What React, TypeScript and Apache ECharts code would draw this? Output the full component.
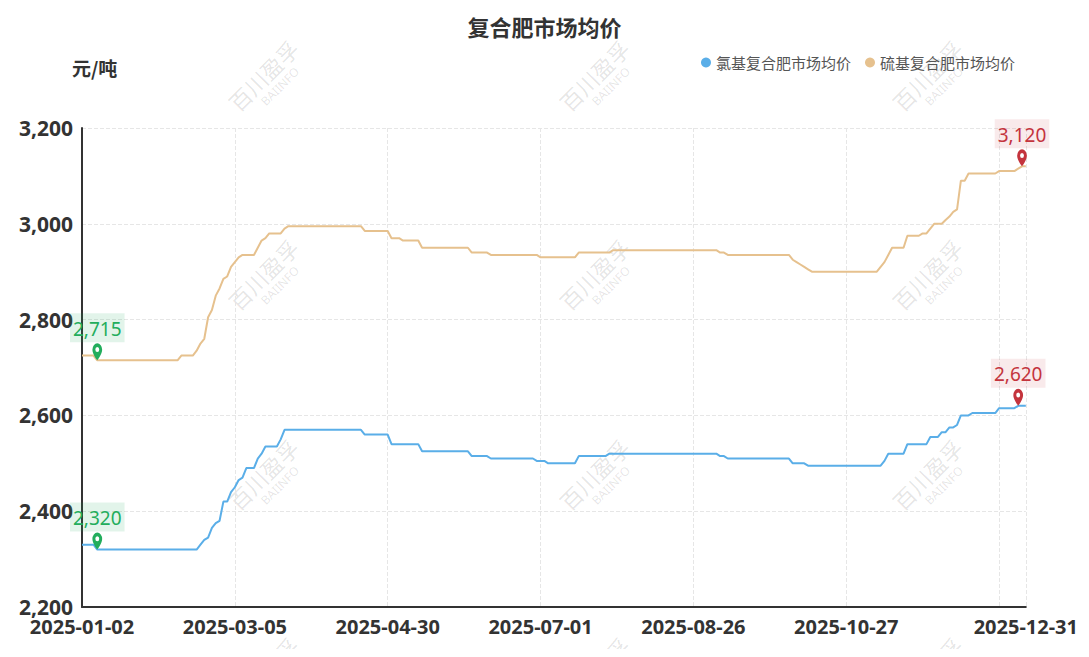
import React, { useEffect, useRef } from "react";
import * as echarts from "echarts";

// Chinese 2025 working-day calendar (category axis = trading days)
const HOLIDAYS = [
  "2025-01-01", "2025-01-28", "2025-01-29", "2025-01-30", "2025-01-31", "2025-02-03", "2025-02-04",
  "2025-04-04", "2025-05-01", "2025-05-02", "2025-05-05", "2025-06-02",
  "2025-10-01", "2025-10-02", "2025-10-03", "2025-10-06", "2025-10-07", "2025-10-08",
];
const MAKEUP_WORKDAYS = ["2025-01-26", "2025-02-08", "2025-04-27", "2025-09-28", "2025-10-11"];

function buildDates(): string[] {
  const out: string[] = [];
  const d = new Date(Date.UTC(2025, 0, 2));
  const end = Date.UTC(2025, 11, 31);
  while (d.getTime() <= end) {
    const s = d.toISOString().slice(0, 10);
    const wd = d.getUTCDay();
    const isWork = (wd !== 0 && wd !== 6 && !HOLIDAYS.includes(s)) || MAKEUP_WORKDAYS.includes(s);
    if (isWork) out.push(s);
    d.setUTCDate(d.getUTCDate() + 1);
  }
  return out;
}
const categories = buildDates();

// Run-length readings from the picture: [value, number of days]
const chlorideRuns: [number, number][] = [
  [2330, 4], [2320, 27], [2330, 1], [2340, 1], [2345, 1], [2365, 1], [2375, 1], [2380, 1],
  [2420, 2], [2440, 1], [2450, 1], [2465, 1], [2470, 1], [2490, 3], [2510, 1], [2520, 1],
  [2535, 4], [2550, 1], [2570, 21], [2560, 7], [2540, 8], [2525, 13], [2515, 5], [2510, 12],
  [2505, 3], [2500, 8], [2515, 8], [2520, 29], [2515, 2], [2510, 17], [2500, 4], [2495, 20],
  [2505, 1], [2520, 5], [2540, 6], [2555, 3], [2565, 2], [2575, 2], [2580, 1], [2600, 3],
  [2605, 7], [2615, 5], [2620, 3],
];
const sulfurRuns: [number, number][] = [
  [2725, 4], [2715, 22], [2725, 4], [2735, 1], [2750, 1], [2760, 1], [2805, 1], [2820, 1],
  [2850, 1], [2865, 1], [2885, 1], [2890, 1], [2910, 1], [2920, 1], [2930, 1], [2935, 4],
  [2950, 1], [2965, 1], [2970, 1], [2980, 4], [2990, 1], [2995, 20], [2985, 7], [2970, 3],
  [2965, 5], [2950, 13], [2940, 5], [2935, 13], [2930, 10], [2940, 9], [2945, 28], [2940, 2],
  [2935, 17], [2925, 1], [2920, 1], [2915, 1], [2910, 1], [2905, 1], [2900, 18], [2910, 1],
  [2920, 1], [2935, 1], [2950, 4], [2975, 4], [2980, 2], [2990, 1], [3000, 3], [3008, 1],
  [3015, 1], [3025, 1], [3030, 1], [3090, 2], [3105, 8], [3110, 5], [3115, 1], [3120, 2],
];

const expand = (runs: [number, number][]) => runs.flatMap(([v, n]) => Array(n).fill(v));
const chlorideValues: number[] = expand(chlorideRuns);
const sulfurValues: number[] = expand(sulfurRuns);

const seriesNames = ["氯基复合肥市场均价", "硫基复合肥市场均价"];
const yTicks = { min: 2200, max: 3200, interval: 200 };
const labelEvery = 40;

const PIN =
  "path://M6 0 A6 6 0 0 1 12 6 C12 10 6 16 6 16 C6 16 0 10 0 6 A6 6 0 0 1 6 0 Z M6 3.4 A2.4 2.4 0 0 0 6 8.2 A2.4 2.4 0 0 0 6 3.4 Z";

function markPoints(values: number[]) {
  const mn = Math.min(...values);
  const mx = Math.max(...values);
  const iMin = values.indexOf(mn);
  const iMax = values.indexOf(mx);
  const mk = (i: number, v: number, color: string, bg: string) => ({
    coord: [categories[i], v],
    value: v,
    itemStyle: { color },
    label: { color, backgroundColor: bg },
  });
  return {
    symbol: PIN,
    symbolSize: [13, 17],
    symbolOffset: [0, -8.5],
    symbolKeepAspect: true,
    label: {
      show: true,
      position: "top",
      distance: 1,
      fontSize: 19,
      fontFamily: "Noto Sans",
      lineHeight: 21,
      padding: [5, 3, 3, 3],
      formatter: (p: any) => Number(p.value).toLocaleString("en-US"),
    },
    data: [
      mk(iMin, mn, "#22ad5c", "rgba(34,173,92,0.13)"),
      mk(iMax, mx, "#c4343d", "rgba(196,52,61,0.10)"),
    ],
  };
}

// watermark centres in page pixels
const WM_X = [263, 594, 927];
const WM_Y = [75, 274, 474, 672];
const M = 8; // body margin

export default function App() {
  const ref = useRef<HTMLDivElement>(null);
  useEffect(() => {
    if (!ref.current) return;
    const chart = echarts.init(ref.current, undefined, { renderer: "svg" });
    const last = categories.length - 1;
    const showIdx = (i: number) => (i % labelEvery === 0 && i <= 200) || i === last;
    const gridIdx = (i: number) => i % labelEvery === 0 || i === last;

    const watermarks: any[] = [];
    WM_X.forEach((x) =>
      WM_Y.forEach((y) =>
        watermarks.push({
          type: "group",
          x: x - M,
          y: y - M,
          rotation: Math.PI / 4,
          z: 100,
          silent: true,
          children: [
            {
              type: "text",
              x: 0,
              y: 0,
              style: {
                text: "百川盈孚",
                fontSize: 22,
                fontFamily: "Noto Sans CJK SC",
                fill: "rgba(0,0,0,0.11)",
                align: "center",
                verticalAlign: "middle",
              },
            },
            {
              type: "text",
              x: 4,
              y: 20,
              style: {
                text: "BAIINFO",
                fontSize: 12,
                fontFamily: "Noto Sans",
                fill: "rgba(0,0,0,0.11)",
                align: "center",
                verticalAlign: "middle",
              },
            },
          ],
        })
      )
    );

    chart.setOption({
      animation: false,
      backgroundColor: "#ffffff",
      title: {
        text: "复合肥市场均价",
        left: "center",
        top: 2,
        textStyle: { fontSize: 22, fontWeight: "bold", color: "#333", fontFamily: "Noto Sans CJK SC" },
      },
      legend: {
        right: 61,
        top: 42,
        icon: "circle",
        itemWidth: 10,
        itemHeight: 10,
        itemGap: 14,
        textStyle: { fontSize: 15, color: "#555", fontFamily: "Noto Sans CJK SC" },
        data: seriesNames,
      },
      grid: { left: 82 - M, right: 51, top: 128 - M, bottom: 42, containLabel: false },
      xAxis: {
        type: "category",
        data: categories,
        boundaryGap: false,
        axisLine: { lineStyle: { color: "#333", width: 2 } },
        axisTick: { show: false },
        axisLabel: {
          interval: (i: number) => showIdx(i),
          color: "#333",
          fontSize: 20,
          fontWeight: "bold",
          fontFamily: "Noto Sans",
          margin: 9,
        },
        splitLine: {
          show: true,
          interval: (i: number) => gridIdx(i),
          lineStyle: { color: "#e6e6e6", type: "dashed" },
        },
      },
      yAxis: {
        type: "value",
        min: yTicks.min,
        max: yTicks.max,
        interval: yTicks.interval,
        axisLine: { show: true, lineStyle: { color: "#333", width: 2 } },
        axisTick: { show: false },
        axisLabel: {
          color: "#333",
          fontSize: 21,
          fontWeight: "bold",
          fontFamily: "Noto Sans",
          margin: 9,
          formatter: (v: number) => v.toLocaleString("en-US"),
        },
        splitLine: { lineStyle: { color: "#e6e6e6", type: "dashed" } },
      },
      graphic: [
        {
          type: "text",
          left: 72 - M,
          top: 58 - M,
          style: {
            text: "元/吨",
            fontSize: 19,
            fontWeight: "bold",
            fill: "#333",
            fontFamily: "Noto Sans CJK SC",
          },
        },
        ...watermarks,
      ],
      series: [
        {
          name: seriesNames[0],
          type: "line",
          data: chlorideValues,
          showSymbol: false,
          symbol: "none",
          color: "#5aaee8",
          lineStyle: { width: 2, color: "#5aaee8" },
          markPoint: markPoints(chlorideValues),
        },
        {
          name: seriesNames[1],
          type: "line",
          data: sulfurValues,
          showSymbol: false,
          symbol: "none",
          color: "#e6c18e",
          lineStyle: { width: 2, color: "#e6c18e" },
          markPoint: markPoints(sulfurValues),
        },
      ],
    });
    return () => chart.dispose();
  }, []);
  return <div ref={ref} style={{ width: 1073, height: 641 }} />;
}
